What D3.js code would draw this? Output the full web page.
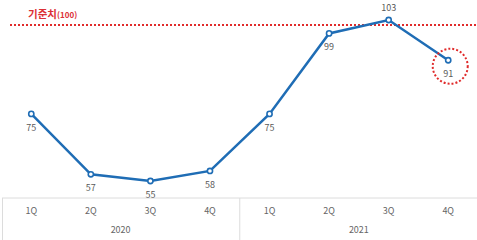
<!DOCTYPE html>
<html>
<head>
<meta charset="utf-8">
<script src="https://cdn.jsdelivr.net/npm/d3@7"></script>
<style>
  body { margin: 0; background: #fff; }
  svg { display: block; font-family: "Noto Sans CJK KR", "Noto Sans", sans-serif; }
</style>
</head>
<body>
<div id="chart"></div>
<script>
const quarters = ['1Q', '2Q', '3Q', '4Q', '1Q', '2Q', '3Q', '4Q']
const years = ['2020', '2021']
const values = [75, 57, 55, 58, 75, 99, 103, 91]
const labelAbove = [false, false, false, false, false, false, true, false]
const baseline = 100
const baselineDrawn = 101.5 // where the dotted rule sits in the picture
const highlightIndex = 7

const width = 477
const height = 240

const svg = d3.select('#chart').append('svg')
  .attr('width', width)
  .attr('height', height)

const keys = quarters.map((q, i) => i)
const x = d3.scaleBand()
  .domain(keys)
  .range([1.5, 478])

const y = d3.scaleLinear()
  .domain([55, 103])
  .range([181, 20])

const cx = i => x(i) + x.bandwidth() / 2

// category table at the bottom
const axisTop = 198
const axis = svg.append('g').classed('axis', true)
axis.append('line')
  .attr('x1', 2).attr('x2', width)
  .attr('y1', axisTop).attr('y2', axisTop)
  .attr('stroke', '#dcdcdc')
axis.append('line')
  .attr('x1', 2.5).attr('x2', 2.5)
  .attr('y1', axisTop).attr('y2', height)
  .attr('stroke', '#dcdcdc')
axis.append('line')
  .attr('x1', x(4)).attr('x2', x(4))
  .attr('y1', axisTop).attr('y2', height)
  .attr('stroke', '#dcdcdc')

axis.selectAll('text.q')
  .data(keys)
  .join('text')
  .classed('q', true)
  .attr('x', cx)
  .attr('y', 214)
  .attr('text-anchor', 'middle')
  .attr('font-size', 9)
  .attr('fill', '#666')
  .text(i => quarters[i])

axis.selectAll('text.year')
  .data(years)
  .join('text')
  .classed('year', true)
  .attr('x', (d, i) => (x(i * 4) + x(i * 4 + 3) + x.bandwidth()) / 2)
  .attr('y', 233)
  .attr('text-anchor', 'middle')
  .attr('font-size', 9)
  .attr('fill', '#666')
  .text(d => d)

// baseline rule
svg.append('line')
  .attr('x1', 10).attr('x2', width)
  .attr('y1', y(baselineDrawn)).attr('y2', y(baselineDrawn))
  .attr('stroke', '#e02b2b')
  .attr('stroke-width', 2)
  .attr('stroke-dasharray', '2,2')

const title = svg.append('text')
  .attr('x', 28)
  .attr('y', 18)
  .attr('fill', '#dc3035')
title.append('tspan')
  .attr('font-size', 10.5)
  .attr('font-weight', 'bold')
  .text('기준치')
title.append('tspan')
  .attr('font-size', 8)
  .attr('font-weight', 'bold')
  .text('(' + baseline + ')')

// series line
const line = d3.line()
  .x((d, i) => cx(i))
  .y(d => y(d))

svg.append('path')
  .datum(values)
  .attr('fill', 'none')
  .attr('stroke', '#1f6db5')
  .attr('stroke-width', 2.5)
  .attr('d', line)

svg.selectAll('circle.pt')
  .data(values)
  .join('circle')
  .classed('pt', true)
  .attr('cx', (d, i) => cx(i))
  .attr('cy', d => y(d))
  .attr('r', 2.6)
  .attr('fill', '#fff')
  .attr('stroke', '#1f6db5')
  .attr('stroke-width', 1.6)

svg.selectAll('text.val')
  .data(values)
  .join('text')
  .classed('val', true)
  .attr('x', (d, i) => cx(i))
  .attr('y', (d, i) => labelAbove[i] ? y(d) - 9 : y(d) + 17)
  .attr('text-anchor', 'middle')
  .attr('font-size', 9)
  .attr('fill', '#595959')
  .text(d => d)

// highlight ring
svg.append('circle')
  .attr('cx', cx(highlightIndex) + 2)
  .attr('cy', y(values[highlightIndex]) + 6)
  .attr('r', 17.5)
  .attr('fill', 'none')
  .attr('stroke', '#e02b2b')
  .attr('stroke-width', 2)
  .attr('stroke-dasharray', '2,2')
</script>
</body>
</html>
